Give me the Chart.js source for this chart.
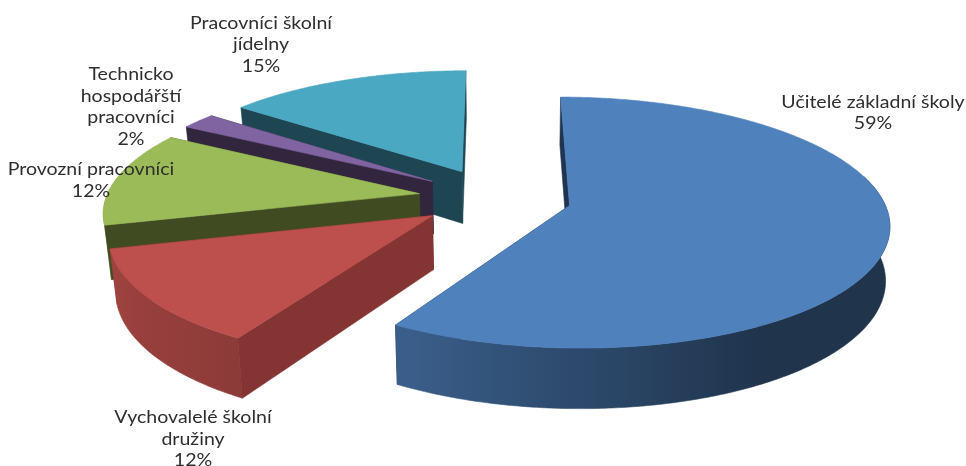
<!DOCTYPE html>
<html>
<head>
<meta charset="utf-8">
<title>Pie 3D</title>
<script src="https://cdn.jsdelivr.net/npm/chart.js@4/dist/chart.umd.js"></script>
<style>
  html, body { margin: 0; padding: 0; background: #fff; }
  canvas { display: block; }
</style>
</head>
<body>
<canvas id="chart" width="966" height="466"></canvas>
<script>
const categories = ['Učitelé základní školy', 'Vychovalelé školní družiny', 'Provozní pracovníci', 'Technicko hospodářští pracovníci', 'Pracovníci školní jídelny'];
// labels only show whole percents, the slice edges read a little finer than that
const values = [58.6, 12.3, 12.4, 2.1, 14.6];
const sliceColors = ['#4F81BD', '#BD4F4C', '#9BBB59', '#8064A2', '#4AA8C3'];
const wallColors = ['#1F3450', '#843533', '#404B22', '#32263F', '#1E4652'];

// label wrapping and where each block sits (centre x, first line y)
const labelLines = [
  ['Učitelé základní školy'],
  ['Vychovalelé školní', 'družiny'],
  ['Provozní pracovníci'],
  ['Technicko', 'hospodářští', 'pracovníci'],
  ['Pracovníci školní', 'jídelny']
];
const labelAnchors = [[873, 102.5], [193, 418], [91, 170], [131, 75], [261, 23.5]];

// projection of the unit pie onto the page
const view = { x: 495, y: 197.5, a: 313, b: 121, persp: 0.135 };
const explode = 0.245;
const textStretch = 1.185;

function project(u, v) {
  const w = 1 - view.persp * v;
  return { x: view.x + view.a * u / w, y: view.y + view.b * v / w };
}

function lower(p) {
  const pull = p.x > view.x ? 0.011 : 0.018;
  return { x: p.x + (view.x - p.x) * pull, y: p.y + 48 + (p.y - 97) * 0.05 };
}

function shade(hex, f) {
  const n = parseInt(hex.slice(1), 16);
  return `rgb(${Math.round((n >> 16) * f)},${Math.round(((n >> 8) & 255) * f)},${Math.round((n & 255) * f)})`;
}

// wall brightness around the rim, angle in degrees clockwise from the top
function rimShade(deg) {
  if (deg >= 212) return 0.75 + (deg - 212) * 0.0023;
  return Math.max(0.4, 0.4 + (deg - 150) * 0.0056);
}

function fillPoly(ctx, pts, style) {
  ctx.beginPath();
  pts.forEach((p, i) => (i ? ctx.lineTo(p.x, p.y) : ctx.moveTo(p.x, p.y)));
  ctx.closePath();
  ctx.fillStyle = style;
  ctx.strokeStyle = style;
  ctx.lineWidth = 0.6;
  ctx.fill();
  ctx.stroke();
}

function drawRimWall(ctx, rim, color) {
  const front = rim.filter(p => Math.sin(p.a) >= -0.25);
  if (front.length < 2) return;
  const xs = front.map(p => p.x);
  const x0 = Math.min(...xs);
  const x1 = Math.max(...xs);
  const grad = ctx.createLinearGradient(x0, 0, x1, 0);
  front.forEach((p, k) => {
    if (k % 8) return;
    const deg = ((p.a + Math.PI / 2) * 180 / Math.PI + 360) % 360;
    grad.addColorStop((p.x - x0) / (x1 - x0), shade(color, rimShade(deg)));
  });
  fillPoly(ctx, [...front, ...front.map(lower).reverse()], grad);
}

function drawSlice(ctx, arc, i) {
  const { startAngle, endAngle } = arc.getProps(['startAngle', 'endAngle']);
  const mid = (startAngle + endAngle) / 2;
  const cu = explode * Math.cos(mid);
  const cv = explode * Math.sin(mid);
  const apex = project(cu, cv);
  const rim = [];
  const steps = Math.ceil((endAngle - startAngle) / 0.01);
  for (let s = 0; s <= steps; s++) {
    const a = startAngle + (endAngle - startAngle) * s / steps;
    rim.push({ a, ...project(cu + Math.cos(a), cv + Math.sin(a)) });
  }
  const first = rim[0];
  const last = rim[rim.length - 1];

  fillPoly(ctx, [apex, last, lower(last), lower(apex)], wallColors[i]);
  drawRimWall(ctx, rim, sliceColors[i]);
  fillPoly(ctx, [apex, first, lower(first), lower(apex)], wallColors[i]);
  fillPoly(ctx, [apex, ...rim], sliceColors[i]);
}

const pie3d = {
  id: 'pie3d',
  beforeDatasetDraw(chart, args) {
    const ctx = chart.ctx;
    const arcs = chart.getDatasetMeta(args.index).data;
    ctx.save();
    for (let i = arcs.length - 1; i >= 0; i--) drawSlice(ctx, arcs[i], i);
    ctx.restore();
    return false;
  },
  afterDraw(chart) {
    const ctx = chart.ctx;
    ctx.save();
    ctx.font = '16.5px Lato';
    ctx.fillStyle = '#2e2e2e';
    ctx.textAlign = 'center';
    ctx.textBaseline = 'middle';
    labelLines.forEach((lines, i) => {
      [...lines, Math.round(values[i]) + '%'].forEach((text, k) => {
        ctx.save();
        ctx.translate(labelAnchors[i][0], labelAnchors[i][1] + k * 21.5);
        ctx.scale(textStretch, 1);
        ctx.fillText(text, 0, 0);
        ctx.restore();
      });
    });
    ctx.restore();
  }
};

new Chart(document.getElementById('chart'), {
  type: 'pie',
  data: {
    labels: categories,
    datasets: [{ data: values, backgroundColor: sliceColors, borderWidth: 0 }]
  },
  options: {
    responsive: false,
    animation: false,
    events: [],
    rotation: 0,
    plugins: { legend: { display: false }, tooltip: { enabled: false } }
  },
  plugins: [pie3d]
});
</script>
</body>
</html>
